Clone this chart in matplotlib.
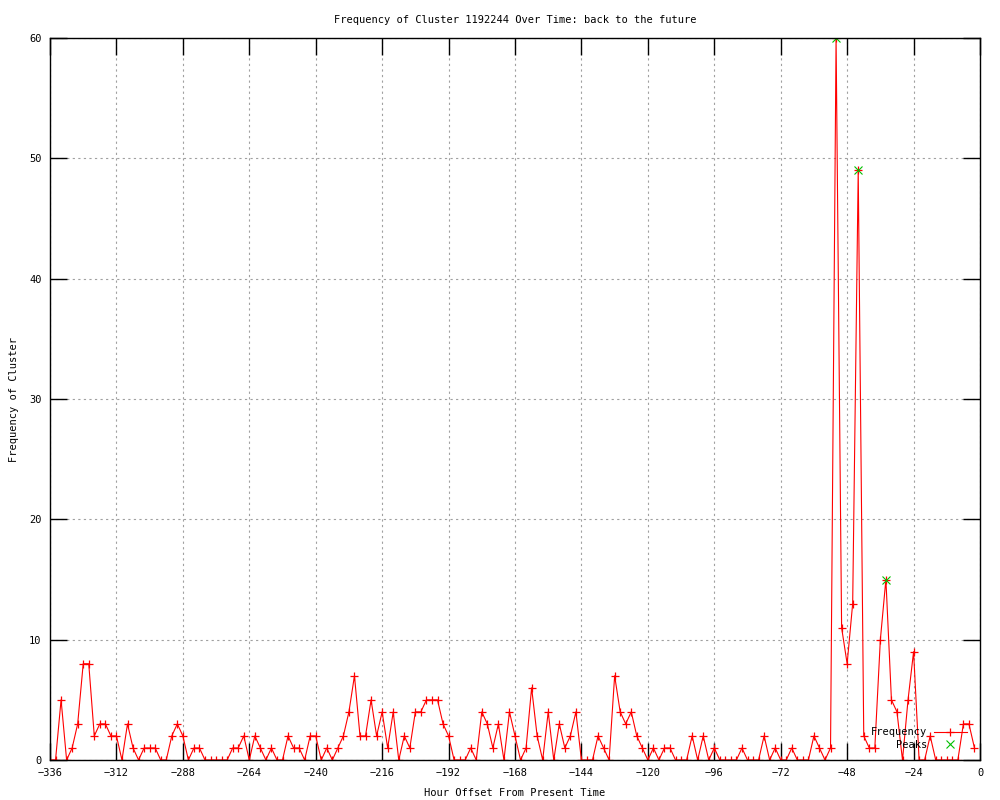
import matplotlib
matplotlib.use("Agg")
import matplotlib.pyplot as plt

plt.rcParams['font.family'] = ['DejaVu Sans Mono']
plt.rcParams['font.size'] = 7.5

# hour offsets, every 2 hours from -336 to -2
hours = list(range(-336, 0, 2))
freq = [
    0, 0, 5, 0, 1, 3, 8, 8, 2, 3, 3, 2, 2, 0, 3, 1, 0, 1, 1, 1,       # -336 .. -298
    0, 0, 2, 3, 2, 0, 1, 1, 0, 0, 0, 0, 0, 1, 1, 2, 0, 2, 1, 0,       # -296 .. -258
    1, 0, 0, 2, 1, 1, 0, 2, 2, 0, 1, 0, 1, 2, 4, 7, 2, 2, 5, 2,       # -256 .. -218
    4, 1, 4, 0, 2, 1, 4, 4, 5, 5, 5, 3, 2, 0, 0, 0, 1, 0, 4, 3,       # -216 .. -178
    1, 3, 0, 4, 2, 0, 1, 6, 2, 0, 4, 0, 3, 1, 2, 4, 0, 0, 0, 2,       # -176 .. -138
    1, 0, 7, 4, 3, 4, 2, 1, 0, 1, 0, 1, 1, 0, 0, 0, 2, 0, 2, 0,       # -136 .. -98
    1, 0, 0, 0, 0, 1, 0, 0, 0, 2, 0, 1, 0, 0, 1, 0, 0, 0, 2, 1,       # -96 .. -58
    0, 1, 60, 11, 8, 13, 49, 2, 1, 1, 10, 15, 5, 4, 0, 5, 9, 0, 0, 2, # -56 .. -18
    0, 0, 0, 0, 0, 3, 3, 1,                                           # -16 .. -2
]

peak_hours = [-52, -44, -34]
peak_vals = [60, 49, 15]

xticks = list(range(-336, 1, 24))
yticks = list(range(0, 61, 10))

fig = plt.figure(figsize=(10, 8), dpi=100)
ax = fig.add_axes([0.05, 0.05, 0.93, 0.9025])

ax.plot(hours, freq, color='#ff0000', lw=0.8, marker='+', ms=6, mew=0.9,
        label='Frequency')
ax.plot(peak_hours, peak_vals, ls='none', color='#00c000', marker='x', ms=5.5,
        mew=0.8, label='Peaks')

ax.set_xlim(-336, 0)
ax.set_ylim(0, 60)
ax.set_xticks(xticks)
ax.set_yticks(yticks)
ax.grid(True, color='#a0a0a0', ls=(0, (2, 3)), lw=0.8)
ax.tick_params(direction='in', top=True, right=True, length=12, width=1,
               pad=6)
for s in ax.spines.values():
    s.set_linewidth(1)

ax.set_title('Frequency of Cluster 1192244 Over Time: back to the future',
             fontsize=7.5, pad=11)
ax.set_xlabel('Hour Offset From Present Time', labelpad=7)
ax.set_ylabel('Frequency of Cluster', labelpad=7)

ax.legend(loc='lower right', bbox_to_anchor=(0.9905, 0.008), frameon=False,
          markerfirst=False, handlelength=3.2, handletextpad=0.6,
          fontsize=7.5, labelspacing=0.25, borderaxespad=0.0)

fig.savefig('out.png', dpi=100)
